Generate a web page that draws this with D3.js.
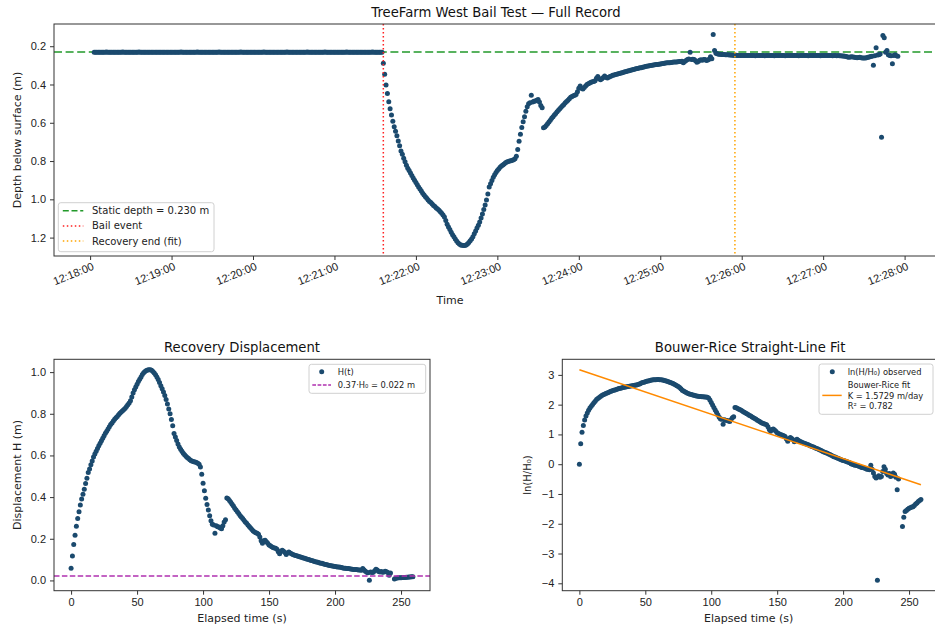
<!DOCTYPE html>
<html>
<head>
<meta charset="utf-8">
<title>TreeFarm West Bail Test</title>
<script src="https://cdn.jsdelivr.net/npm/d3@7"></script>
<style>
  html, body { margin: 0; padding: 0; background: #fff; }
  svg { display: block; font-family: "DejaVu Sans", sans-serif; }
</style>
</head>
<body>
<svg id="chart" width="935" height="629"></svg>
<script>
// ---- data ----
var staticDepth = 0.230;
var recordStart = "12:18:03";   // first logger sample, 1 s interval
var bailTime = "12:21:36";

var preBailDepth = [
  0.231,0.231,0.232,0.231,0.231,0.231,0.232,0.231,0.231,0.230,0.231,0.231,0.232,0.231,0.231,0.231,0.231,0.232,0.231,0.231,
  0.231,0.230,0.231,0.231,0.232,0.231,0.231,0.231,0.231,0.232,0.231,0.231,0.231,0.230,0.231,0.231,0.232,0.231,0.231,0.231,
  0.232,0.231,0.231,0.231,0.231,0.232,0.231,0.232,0.231,0.231,0.231,0.232,0.231,0.231,0.231,0.231,0.232,0.231,0.231,0.231,
  0.231,0.231,0.232,0.231,0.230,0.231,0.231,0.231,0.232,0.231,0.231,0.231,0.231,0.232,0.231,0.231,0.230,0.231,0.231,0.232,
  0.231,0.231,0.231,0.232,0.231,0.231,0.231,0.231,0.232,0.231,0.231,0.231,0.230,0.231,0.231,0.232,0.231,0.231,0.231,0.231,
  0.232,0.231,0.231,0.231,0.231,0.232,0.231,0.231,0.230,0.231,0.231,0.232,0.231,0.231,0.231,0.231,0.232,0.231,0.231,0.231,
  0.231,0.232,0.231,0.231,0.231,0.230,0.231,0.231,0.232,0.231,0.231,0.231,0.231,0.232,0.231,0.231,0.231,0.231,0.232,0.231,
  0.231,0.231,0.230,0.231,0.231,0.232,0.231,0.231,0.231,0.231,0.232,0.231,0.231,0.231,0.231,0.232,0.231,0.230,0.231,0.231,
  0.231,0.232,0.231,0.231,0.231,0.231,0.232,0.231,0.231,0.231,0.230,0.231,0.231,0.232,0.231,0.231,0.231,0.231,0.232,0.231,
  0.231,0.231,0.231,0.232,0.231,0.231,0.230,0.231,0.231,0.231,0.232,0.231,0.231,0.231,0.231,0.232,0.231,0.231,0.231,0.231,
  0.231,0.232,0.231,0.231,0.231,0.230,0.231,0.231,0.232,0.231,0.231,0.231,0.231
];

// displacement H = depth - static, one value per second after the bail
var recoveryH = [
  0.059,0.117,0.172,0.217,0.260,0.297,0.330,0.362,0.391,0.414,
  0.438,0.465,0.490,0.518,0.535,0.555,0.573,0.592,0.607,0.620,
  0.633,0.646,0.658,0.670,0.682,0.694,0.706,0.716,0.727,0.738,
  0.748,0.756,0.765,0.774,0.781,0.787,0.795,0.802,0.808,0.815,
  0.821,0.827,0.835,0.843,0.852,0.862,0.880,0.900,0.915,0.928,
  0.942,0.955,0.966,0.977,0.988,0.997,1.003,1.008,1.010,1.011,
  1.011,1.009,1.003,0.996,0.987,0.977,0.965,0.950,0.935,0.920,
  0.905,0.888,0.868,0.847,0.823,0.800,0.773,0.742,0.705,0.688,
  0.672,0.655,0.641,0.630,0.620,0.611,0.603,0.596,0.590,0.585,
  0.579,0.575,0.572,0.570,0.568,0.566,0.563,0.558,0.545,0.510,
  0.467,0.430,0.395,0.365,0.338,0.310,0.286,0.270,0.266,0.226,
  0.262,0.258,0.256,0.252,0.248,0.262,0.280,0.291,0.396,0.392,
  0.384,0.375,0.366,0.357,0.347,0.338,0.330,0.321,0.312,0.304,
  0.297,0.289,0.281,0.274,0.266,0.259,0.252,0.245,0.237,0.233,
  0.229,0.226,0.222,0.208,0.190,0.178,0.190,0.193,0.186,0.178,
  0.170,0.166,0.162,0.158,0.156,0.154,0.150,0.138,0.128,0.140,
  0.145,0.140,0.134,0.125,0.132,0.136,0.132,0.128,0.125,0.122,
  0.120,0.118,0.116,0.114,0.112,0.110,0.108,0.106,0.104,0.102,
  0.100,0.098,0.096,0.094,0.092,0.090,0.088,0.087,0.085,0.083,
  0.082,0.080,0.078,0.076,0.075,0.073,0.072,0.071,0.069,0.068,
  0.067,0.066,0.065,0.064,0.063,0.062,0.060,0.059,0.058,0.057,
  0.057,0.056,0.055,0.054,0.053,0.053,0.052,0.051,0.050,0.050,
  0.049,0.057,0.050,0.044,0.039,0.037,0.0012,0.040,0.038,0.039,
  0.046,0.054,0.050,0.043,0.041,0.043,0.039,0.040,0.044,0.042,
  0.038,0.025,0.036,-0.091,-0.007,0.0073,0.0099,0.0120,0.0125,0.0130,
  0.0134,0.0137,0.0140,0.0141,0.0147,0.0155,0.0160,0.0168,0.0175,0.0181
];

var postDepth = [
  0.247,0.248,0.248,0.249,0.248,0.249,0.249,0.248,0.249,0.249,
  0.249,0.248,0.249,0.249,0.250,0.249,0.249,0.248,0.249,0.249,
  0.249,0.250,0.249,0.249,0.249,0.248,0.249,0.249,0.250,0.249,
  0.249,0.249,0.248,0.249,0.249,0.249,0.250,0.249,0.249,0.249,
  0.249,0.248,0.249,0.249,0.249,0.249,0.250,0.249,0.249,0.248,
  0.249,0.249,0.249,0.250,0.249,0.249,0.249,0.248,0.249,0.249,
  0.249,0.249,0.250,0.249,0.249,0.249,0.249,0.248,0.249,0.249,
  0.249,0.250,0.249,0.249,0.250,0.249,0.250,0.250,0.251,0.251,
  0.252,0.254,0.256,0.257,0.256,0.255,0.256,0.258,0.259,0.260,
  0.259,0.258,0.260,0.261,0.262,0.261,0.260,0.258,0.256,0.254,
  0.252,0.300,0.250,0.208,0.246,0.245,0.240,0.675,0.144,0.156,
  0.232,0.223,0.245,0.249,0.250,0.292,0.248,0.244,0.250,0.2525
];

var fitT = [0, 259];
var fitLn = [3.17, -0.69];
var fitLabel = ["Bouwer-Rice fit", "K = 1.5729 m/day", "R\u00b2 = 0.782"];

var timeTicks = ["12:18:00","12:19:00","12:20:00","12:21:00","12:22:00","12:23:00",
                 "12:24:00","12:25:00","12:26:00","12:27:00","12:28:00"];
var depthTicks = [0.2, 0.4, 0.6, 0.8, 1.0, 1.2];
var hTicks = [0.0, 0.2, 0.4, 0.6, 0.8, 1.0];
var lnTicks = [-4, -3, -2, -1, 0, 1, 2, 3];
var elapsedTicks = [0, 50, 100, 150, 200, 250];

// ---- colours ----
var dotColor = "#1b4a6e";
var staticColor = "#22992a";
var bailColor = "#ff2020";
var endColor = "#ffa500";
var thresholdColor = "#b030b0";
var fitColor = "#ff8a00";
var dotR = 2.5;

// ---- derived records ----
var parseTime = d3.utcParse("%H:%M:%S");
var tStart = parseTime(recordStart), tBail = parseTime(bailTime);
var record = [];
preBailDepth.forEach(function(d, i) { record.push({time: d3.utcSecond.offset(tStart, i), depth: d}); });
recoveryH.forEach(function(h, i) { record.push({time: d3.utcSecond.offset(tBail, i), depth: staticDepth + h}); });
var tEnd = d3.utcSecond.offset(tBail, recoveryH.length - 1);
postDepth.forEach(function(d, i) { record.push({time: d3.utcSecond.offset(tEnd, i + 1), depth: d}); });

var H0 = recoveryH[0];
var threshold = 0.37 * H0;
var recovery = [];
recoveryH.forEach(function(h, i) {
  if (h > 0) recovery.push({t: i, h: h, ln: Math.log(h / H0)});
});

function pad(ext) {
  var p = (ext[1] - ext[0]) * 0.05;
  return [ext[0] - p, ext[1] + p];
}

var svg = d3.select("#chart");
var defs = svg.append("defs");
var clipId = 0;

function panel(box) {
  var g = svg.append("g").attr("transform", "translate(" + box.x0 + "," + box.y0 + ")");
  var w = box.x1 - box.x0, h = box.y1 - box.y0;
  var id = "clip" + (clipId++);
  defs.append("clipPath").attr("id", id).append("rect").attr("width", w).attr("height", h);
  var plot = g.append("g").attr("clip-path", "url(#" + id + ")");
  return {g: g, plot: plot, w: w, h: h};
}

function styleAxis(sel) {
  sel.select(".domain").remove();
  sel.selectAll(".tick line").attr("stroke", "#333");
  sel.selectAll(".tick text").attr("fill", "#222").style("font-size", "11px");
}

function frame(p) {
  p.g.append("rect").attr("width", p.w).attr("height", p.h)
    .attr("fill", "none").attr("stroke", "#333").attr("stroke-width", 1);
}

function title(p, text) {
  p.g.append("text").attr("x", p.w / 2).attr("y", -7).attr("text-anchor", "middle")
    .style("font-size", "13.2px").attr("fill", "#111").text(text);
}

function dots(p, data, fx, fy) {
  p.plot.append("g").selectAll("circle").data(data).enter().append("circle")
    .attr("cx", fx).attr("cy", fy).attr("r", dotR).attr("fill", dotColor);
}

function legendBox(g, x, y, w, h) {
  g.append("rect").attr("x", x).attr("y", y).attr("width", w).attr("height", h)
    .attr("rx", 2.5).attr("fill", "#fff").attr("fill-opacity", 0.85)
    .attr("stroke", "#d0d0d0").attr("stroke-width", 1);
}

// ================= top: full record =================
var full = panel({x0: 54, x1: 938, y0: 24, y1: 256});
var tExt = d3.extent(record, function(d) { return d.time.getTime(); });
var xTime = d3.scaleUtc().domain(pad(tExt)).range([0, full.w]);
// depth axis inverted: shallow at the top
var yDepth = d3.scaleLinear().domain(pad(d3.extent(record, function(d) { return d.depth; }))).range([0, full.h]);

full.plot.append("line").attr("x1", 0).attr("x2", full.w)
  .attr("y1", yDepth(staticDepth)).attr("y2", yDepth(staticDepth))
  .attr("stroke", staticColor).attr("stroke-width", 1.5).attr("stroke-dasharray", "8,3.6");

dots(full, record, function(d) { return xTime(d.time); }, function(d) { return yDepth(d.depth); });

full.plot.append("line").attr("x1", xTime(tBail)).attr("x2", xTime(tBail))
  .attr("y1", 0).attr("y2", full.h)
  .attr("stroke", bailColor).attr("stroke-width", 1.5).attr("stroke-dasharray", "1.5,2.5");
full.plot.append("line").attr("x1", xTime(tEnd)).attr("x2", xTime(tEnd))
  .attr("y1", 0).attr("y2", full.h)
  .attr("stroke", endColor).attr("stroke-width", 1.5).attr("stroke-dasharray", "1.5,2.5");

frame(full);
title(full, "TreeFarm West Bail Test \u2014 Full Record");

var xTop = full.g.append("g").attr("transform", "translate(0," + full.h + ")")
  .call(d3.axisBottom(xTime).tickValues(timeTicks.map(parseTime))
    .tickFormat(d3.utcFormat("%H:%M:%S")).tickSize(4).tickPadding(4));
styleAxis(xTop);
xTop.selectAll(".tick text").attr("text-anchor", "end")
  .attr("y", 6).attr("dx", "-0.1em").attr("transform", "rotate(-22)");

var yTop = full.g.append("g")
  .call(d3.axisLeft(yDepth).tickValues(depthTicks).tickFormat(d3.format(".1f")).tickSize(4).tickPadding(4));
styleAxis(yTop);

full.g.append("text").attr("x", full.w / 2 - 46).attr("y", 280).attr("text-anchor", "middle")
  .style("font-size", "11px").attr("fill", "#222").text("Time");
full.g.append("text").attr("transform", "translate(-33," + (full.h / 2) + ") rotate(-90)")
  .attr("text-anchor", "middle").style("font-size", "11px").attr("fill", "#222")
  .text("Depth below surface (m)");

// legend
var lgTop = full.g.append("g").attr("transform", "translate(4.3,178.7)");
legendBox(lgTop, 0, 0, 155.7, 49);
[
  {label: "Static depth = 0.230 m", color: staticColor, dash: "6,2.7"},
  {label: "Bail event", color: bailColor, dash: "1.5,2.5"},
  {label: "Recovery end (fit)", color: endColor, dash: "1.5,2.5"}
].forEach(function(e, i) {
  var yy = 8 + i * 15.2;
  lgTop.append("line").attr("x1", 4.5).attr("x2", 25).attr("y1", yy).attr("y2", yy)
    .attr("stroke", e.color).attr("stroke-width", 1.5).attr("stroke-dasharray", e.dash);
  lgTop.append("text").attr("x", 33.7).attr("y", yy + 3.6).style("font-size", "10px")
    .attr("fill", "#222").text(e.label);
});

// ================= bottom left: displacement =================
var bl = panel({x0: 54, x1: 430, y0: 359.3, y1: 590.7});
var xEl = d3.scaleLinear().domain(pad(d3.extent(recovery, function(d) { return d.t; }))).range([0, bl.w]);
var yH = d3.scaleLinear().domain(pad(d3.extent(recovery, function(d) { return d.h; }))).range([bl.h, 0]);

dots(bl, recovery, function(d) { return xEl(d.t); }, function(d) { return yH(d.h); });
bl.plot.append("line").attr("x1", 0).attr("x2", bl.w).attr("y1", yH(threshold)).attr("y2", yH(threshold))
  .attr("stroke", thresholdColor).attr("stroke-width", 1.5).attr("stroke-dasharray", "5.5,2.4");

frame(bl);
title(bl, "Recovery Displacement");
var xBl = bl.g.append("g").attr("transform", "translate(0," + bl.h + ")")
  .call(d3.axisBottom(xEl).tickValues(elapsedTicks).tickSize(4).tickPadding(4));
styleAxis(xBl);
var yBl = bl.g.append("g")
  .call(d3.axisLeft(yH).tickValues(hTicks).tickFormat(d3.format(".1f")).tickSize(4).tickPadding(4));
styleAxis(yBl);
bl.g.append("text").attr("x", bl.w / 2).attr("y", bl.h + 31.5).attr("text-anchor", "middle")
  .style("font-size", "11px").attr("fill", "#222").text("Elapsed time (s)");
bl.g.append("text").attr("transform", "translate(-33," + (bl.h / 2) + ") rotate(-90)")
  .attr("text-anchor", "middle").style("font-size", "11px").attr("fill", "#222")
  .text("Displacement H (m)");

var lgBl = bl.g.append("g").attr("transform", "translate(255,5)");
legendBox(lgBl, 0, 0, 116.7, 29);
lgBl.append("circle").attr("cx", 12.7).attr("cy", 7.4).attr("r", dotR).attr("fill", dotColor);
lgBl.append("text").attr("x", 28.7).attr("y", 10.3).style("font-size", "8.3px").attr("fill", "#222").text("H(t)");
lgBl.append("line").attr("x1", 3.3).attr("x2", 22).attr("y1", 20.7).attr("y2", 20.7)
  .attr("stroke", thresholdColor).attr("stroke-width", 1.5).attr("stroke-dasharray", "3.7,1.6");
lgBl.append("text").attr("x", 28.7).attr("y", 23.6).style("font-size", "8.3px").attr("fill", "#222")
  .text("0.37\u00b7H\u2080 = " + d3.format(".3f")(threshold) + " m");

// ================= bottom right: Bouwer-Rice =================
var br = panel({x0: 562.3, x1: 938, y0: 359.3, y1: 590.7});
var xEl2 = d3.scaleLinear().domain(pad(d3.extent(recovery, function(d) { return d.t; }))).range([0, br.w]);
var lnExt = d3.extent(recovery.map(function(d) { return d.ln; }).concat(fitLn));
var yLn = d3.scaleLinear().domain(pad(lnExt)).range([br.h, 0]);

dots(br, recovery, function(d) { return xEl2(d.t); }, function(d) { return yLn(d.ln); });
br.plot.append("path")
  .datum(fitT.map(function(t, i) { return [t, fitLn[i]]; }))
  .attr("d", d3.line().x(function(d) { return xEl2(d[0]); }).y(function(d) { return yLn(d[1]); }))
  .attr("fill", "none").attr("stroke", fitColor).attr("stroke-width", 1.5);

frame(br);
title(br, "Bouwer-Rice Straight-Line Fit");
var xBr = br.g.append("g").attr("transform", "translate(0," + br.h + ")")
  .call(d3.axisBottom(xEl2).tickValues(elapsedTicks).tickSize(4).tickPadding(4));
styleAxis(xBr);
var yBr = br.g.append("g")
  .call(d3.axisLeft(yLn).tickValues(lnTicks).tickFormat(d3.format("d")).tickSize(4).tickPadding(4));
styleAxis(yBr);
br.g.append("text").attr("x", br.w / 2 - 1.5).attr("y", br.h + 31.5).attr("text-anchor", "middle")
  .style("font-size", "11px").attr("fill", "#222").text("Elapsed time (s)");
br.g.append("text").attr("transform", "translate(-31," + (br.h / 2) + ") rotate(-90)")
  .attr("text-anchor", "middle").style("font-size", "10px").attr("fill", "#222")
  .text("ln(H/H\u2080)");

var lgBr = br.g.append("g").attr("transform", "translate(256.7,4.7)");
legendBox(lgBr, 0, 0, 114, 50.3);
lgBr.append("circle").attr("cx", 13.3).attr("cy", 7.7).attr("r", dotR).attr("fill", dotColor);
lgBr.append("text").attr("x", 28.7).attr("y", 10.6).style("font-size", "8.3px").attr("fill", "#222")
  .text("ln(H/H\u2080) observed");
lgBr.append("line").attr("x1", 3.3).attr("x2", 22.7).attr("y1", 31.4).attr("y2", 31.4)
  .attr("stroke", fitColor).attr("stroke-width", 1.5);
fitLabel.forEach(function(s, i) {
  lgBr.append("text").attr("x", 28.7).attr("y", 24 + i * 10.5).style("font-size", "8.3px")
    .attr("fill", "#222").text(s);
});
</script>
</body>
</html>
